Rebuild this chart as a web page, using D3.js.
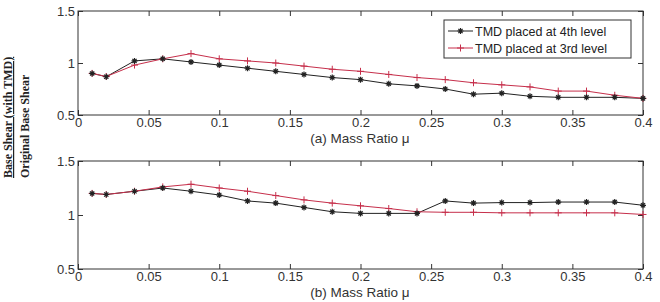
<!DOCTYPE html>
<html><head><meta charset="utf-8">
<script src="https://cdn.jsdelivr.net/npm/d3@7"></script>
<style>body{margin:0;background:#fff}svg{display:block}</style>
</head><body><svg id="c" width="660" height="302"></svg>
<script>
const massRatio = [0.01,0.02,0.04,0.06,0.08,0.10,0.12,0.14,0.16,0.18,0.20,0.22,0.24,0.26,0.28,0.30,0.32,0.34,0.36,0.38,0.40];
const topLevel4 = [0.90,0.868,1.02,1.04,1.01,0.98,0.95,0.92,0.89,0.86,0.84,0.80,0.78,0.75,0.70,0.71,0.68,0.67,0.67,0.67,0.66];
const topLevel3 = [0.90,0.87,0.98,1.04,1.09,1.04,1.02,1.00,0.97,0.94,0.92,0.89,0.86,0.84,0.81,0.79,0.77,0.73,0.73,0.69,0.66];
const botLevel4 = [1.20,1.19,1.22,1.25,1.22,1.185,1.13,1.11,1.07,1.03,1.015,1.015,1.015,1.13,1.11,1.115,1.115,1.12,1.12,1.12,1.09];
const botLevel3 = [1.20,1.19,1.22,1.26,1.285,1.25,1.22,1.18,1.14,1.11,1.085,1.06,1.03,1.025,1.025,1.02,1.02,1.02,1.02,1.02,1.005];
const xTicks = [0,0.05,0.1,0.15,0.2,0.25,0.3,0.35,0.4];
const yTicks = [0.5,1,1.5];
const seriesNames = ["TMD placed at 4th level","TMD placed at 3rd level"];
const panelLabels = ["(a) Mass Ratio \u03bc","(b) Mass Ratio \u03bc"];

const svg = d3.select("#c");
const BLK = "#222", RED = "#c62f4b", FRAME = "#333";
const font = "Liberation Sans, Arial, sans-serif";
const x = d3.scaleLinear().domain([0,0.4]).range([78,643]);

function star(g, cx, cy, s, col){
  const p = `M${cx-s},${cy}L${cx+s},${cy}M${cx},${cy-s}L${cx},${cy+s}M${cx-s*0.7},${cy-s*0.7}L${cx+s*0.7},${cy+s*0.7}M${cx-s*0.7},${cy+s*0.7}L${cx+s*0.7},${cy-s*0.7}`;
  g.append("path").attr("d",p).attr("stroke",col).attr("stroke-width",1.2).attr("fill","none");
}
function plus(g, cx, cy, s, col){
  g.append("path").attr("d",`M${cx-s},${cy}L${cx+s},${cy}M${cx},${cy-s}L${cx},${cy+s}`).attr("stroke",col).attr("stroke-width",1).attr("fill","none");
}

function panel(y0, y1, s4, s3, label){
  const y = d3.scaleLinear().domain([0.5,1.5]).range([y1,y0]);
  const g = svg.append("g");
  const ax = g.append("g").attr("transform",`translate(0,${y1})`).call(d3.axisBottom(x).tickValues(xTicks).tickFormat(d=>d===0?"0":String(d)).tickSize(-5).tickPadding(3));
  const axT = g.append("g").attr("transform",`translate(0,${y0})`).call(d3.axisTop(x).tickValues(xTicks).tickFormat("").tickSize(-5));
  const ay = g.append("g").attr("transform",`translate(78,0)`).call(d3.axisLeft(y).tickValues(yTicks).tickFormat(d=>String(d)).tickSize(-5).tickPadding(3));
  const ayR = g.append("g").attr("transform",`translate(643,0)`).call(d3.axisRight(y).tickValues(yTicks).tickFormat("").tickSize(-5));
  [ax,axT,ay,ayR].forEach(a=>{
    a.select(".domain").remove();
    a.selectAll("line").attr("stroke",FRAME);
    a.selectAll("text").attr("fill","#333").style("font-family",font).style("font-size","13px");
  });
  g.append("rect").attr("x",78).attr("y",y0).attr("width",643-78).attr("height",y1-y0).attr("fill","none").attr("stroke",FRAME).attr("stroke-width",1);
  const line = d3.line().x((d,i)=>x(massRatio[i])).y(d=>y(d));
  g.append("path").attr("d",line(s4)).attr("fill","none").attr("stroke",BLK).attr("stroke-width",1);
  g.append("path").attr("d",line(s3)).attr("fill","none").attr("stroke",RED).attr("stroke-width",1);
  s3.forEach((v,i)=>plus(g,x(massRatio[i]),y(v),3.5,RED));
  s4.forEach((v,i)=>star(g,x(massRatio[i]),y(v),3,BLK));
  g.append("text").attr("x",360).attr("y",y1+27.5).attr("text-anchor","middle").attr("fill","#333")
    .style("font-family",font).style("font-size","13.5px").text(label);
}
panel(11,115,topLevel4,topLevel3,panelLabels[0]);
panel(161,269,botLevel4,botLevel3,panelLabels[1]);

const lg = svg.append("g");
lg.append("rect").attr("x",444).attr("y",20).attr("width",187).attr("height",38).attr("fill","#fff").attr("stroke",FRAME);
[[BLK,31],[RED,48]].forEach(([c,yy],i)=>{
  lg.append("line").attr("x1",448).attr("x2",473).attr("y1",yy).attr("y2",yy).attr("stroke",c);
  if(i===0) star(lg,460.5,yy,3,c); else plus(lg,460.5,yy,3.5,c);
  lg.append("text").attr("x",475).attr("y",yy+4.5).attr("fill","#222").style("font-family",font).style("font-size","12.5px").text(seriesNames[i]);
});

const yl = svg.append("g").attr("transform","translate(0,178) rotate(-90)");
yl.append("text").attr("x",0).attr("y",12).attr("fill","#222").style("font-family","Liberation Serif, Times New Roman, serif")
  .style("font-size","12px").style("font-weight","bold").style("text-decoration","underline").text("Base Shear (with TMD)");
yl.append("text").attr("x",0).attr("y",29).attr("fill","#222").style("font-family","Liberation Serif, Times New Roman, serif")
  .style("font-size","12px").style("font-weight","bold").text("Original Base Shear");
</script></body></html>
